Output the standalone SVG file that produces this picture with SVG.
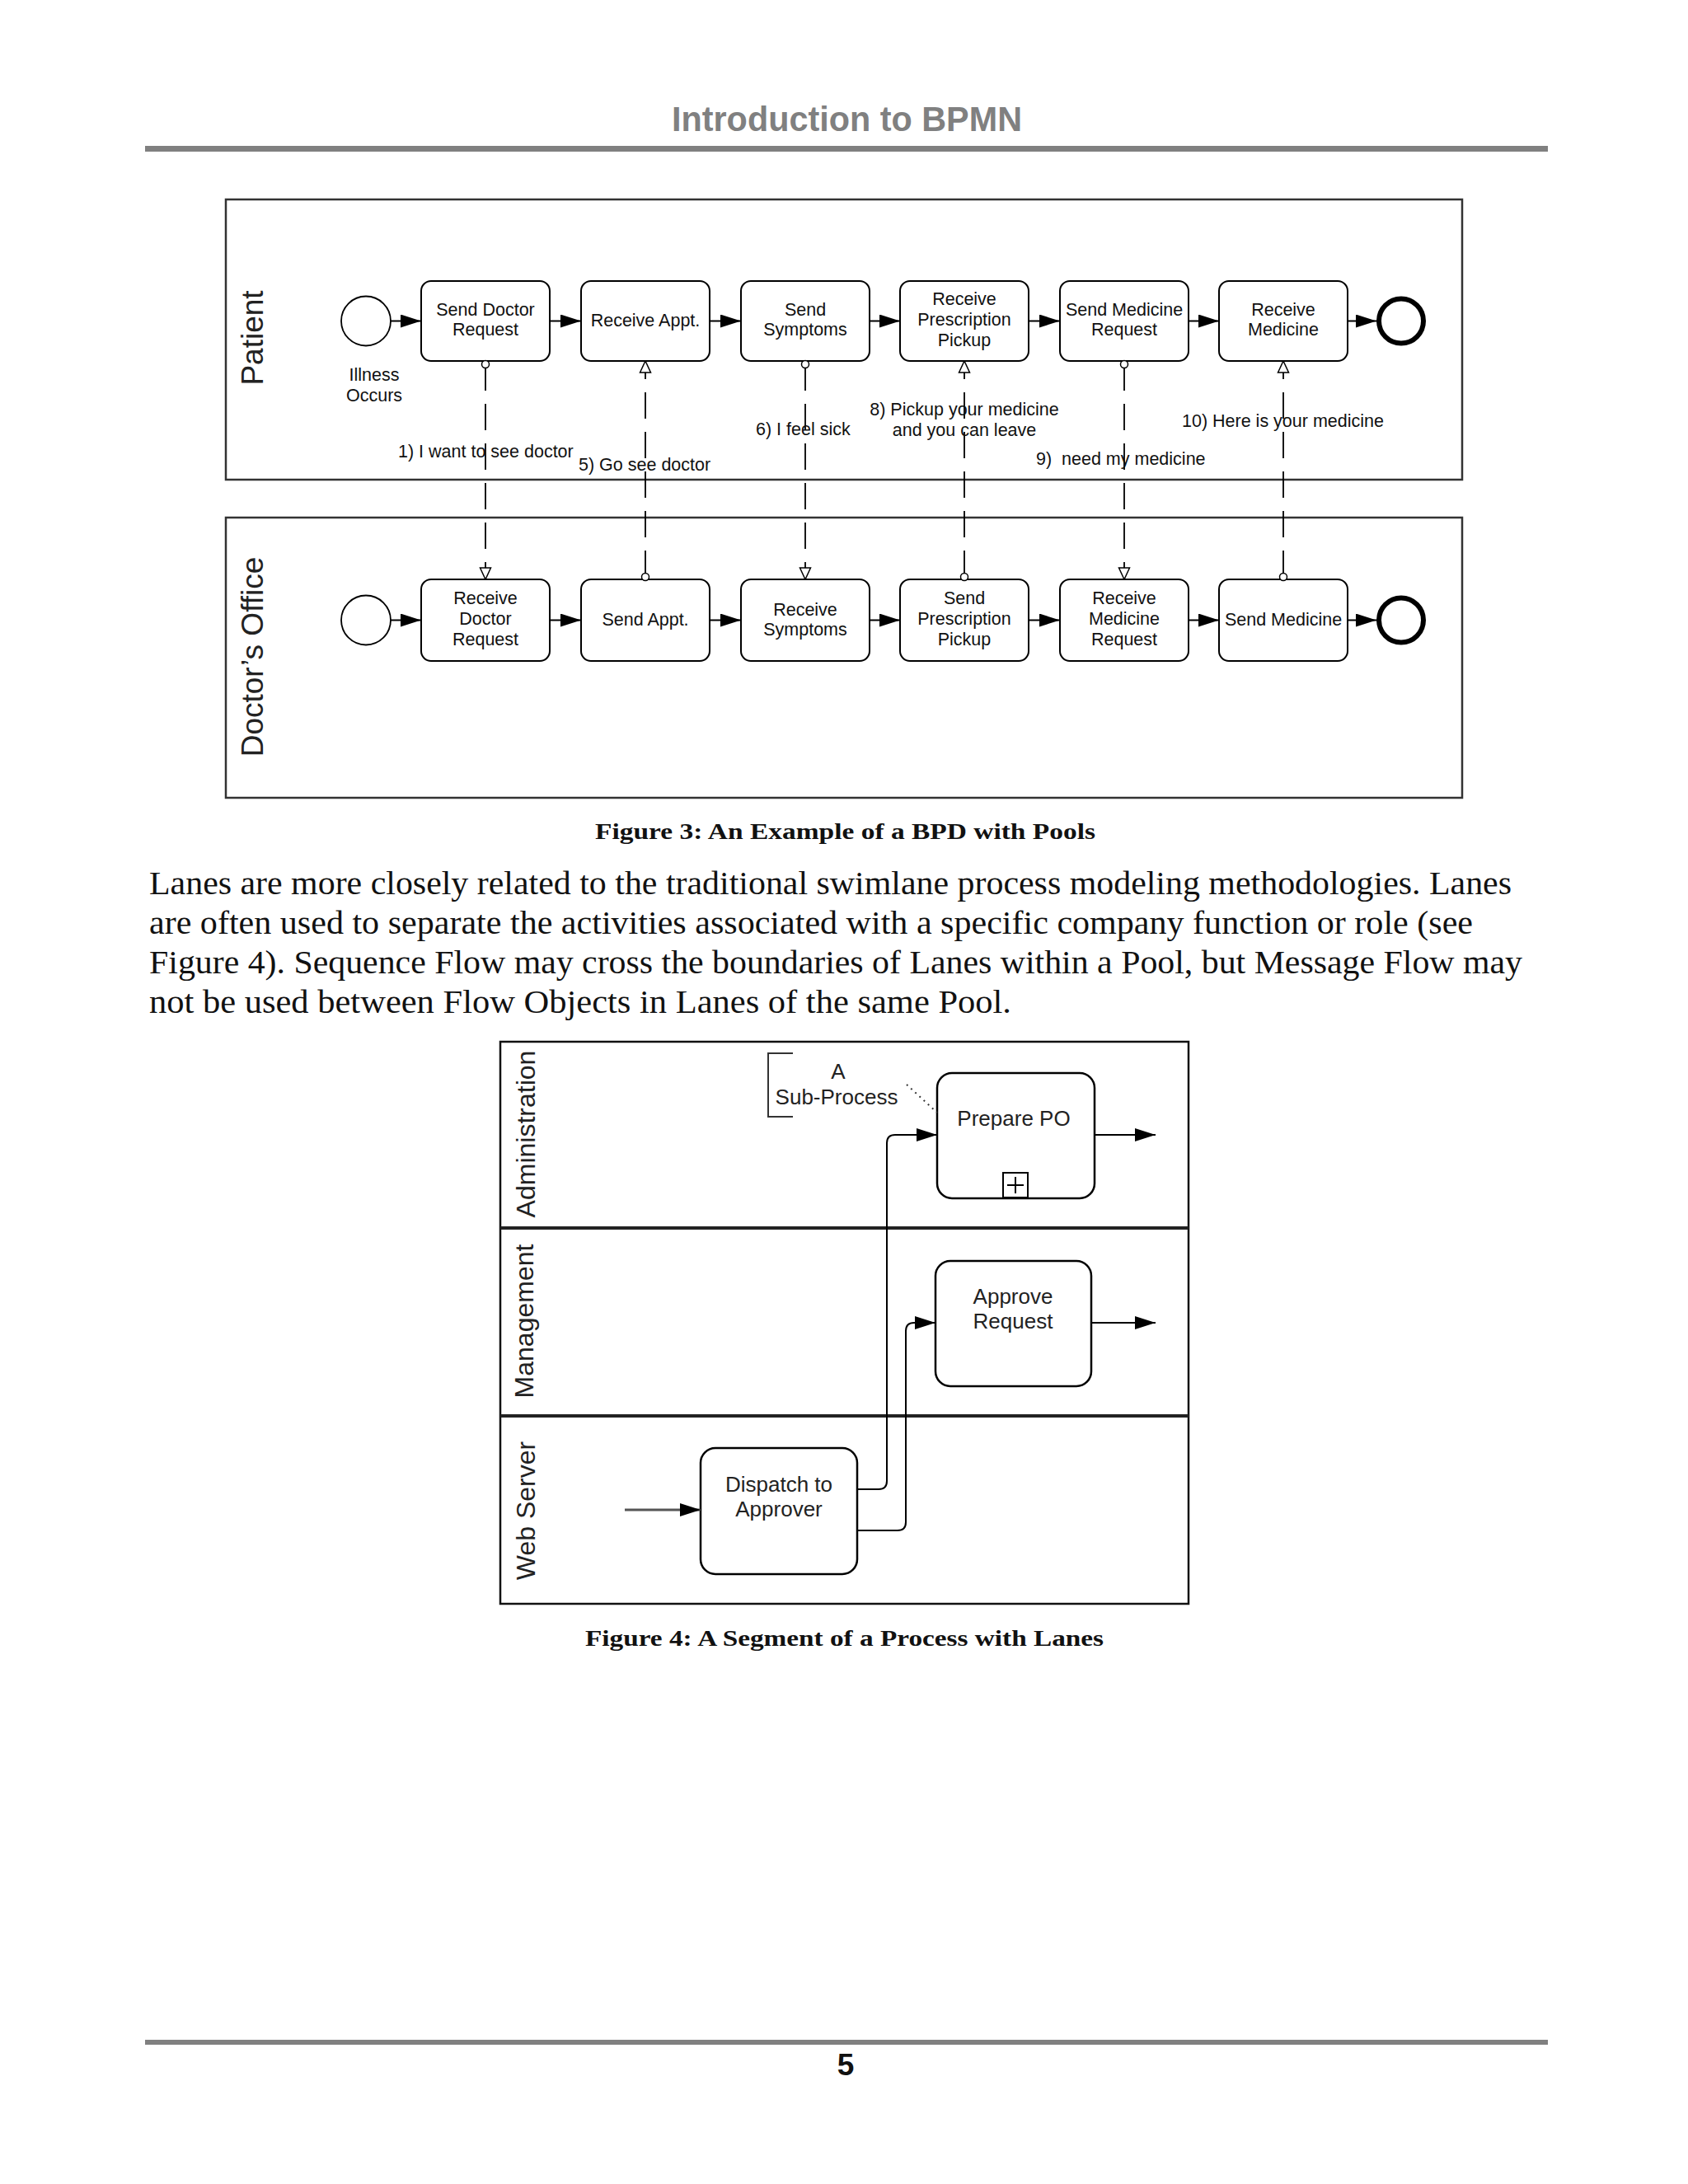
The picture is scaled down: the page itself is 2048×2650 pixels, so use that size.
<svg xmlns="http://www.w3.org/2000/svg" width="2048" height="2650" viewBox="0 0 2048 2650">
<style>
.t{font-family:"Liberation Sans",Arial,sans-serif;font-size:21.5px;fill:#111;text-anchor:middle}
.lbl{font-family:"Liberation Sans",Arial,sans-serif;font-size:21.5px;fill:#111;white-space:pre}
.pool{fill:none;stroke:#333;stroke-width:2.5}
.task{fill:#fff;stroke:#000;stroke-width:2}
.task4{fill:#fff;stroke:#000;stroke-width:2.5}
.seq{fill:none;stroke:#000;stroke-width:2;marker-end:url(#seq)}
.msg{fill:none;stroke:#000;stroke-width:1.8;stroke-dasharray:32 16;marker-start:url(#msgStart);marker-end:url(#msgEnd)}
.plab{font-family:"Liberation Sans",Arial,sans-serif;font-size:37px;fill:#222;text-anchor:middle}
.llab{font-family:"Liberation Sans",Arial,sans-serif;font-size:32px;fill:#222;text-anchor:middle}
.t4{font-family:"Liberation Sans",Arial,sans-serif;font-size:26px;fill:#222;text-anchor:middle}
.body{font-family:"Liberation Serif","Times New Roman",serif;font-size:40px;fill:#111}
.cap{font-family:"Liberation Serif","Times New Roman",serif;font-size:28px;font-weight:bold;fill:#111}
</style>
<defs>
<marker id="seq" viewBox="0 0 25 16" refX="25" refY="8" markerWidth="25" markerHeight="16" markerUnits="userSpaceOnUse" orient="auto"><path d="M0,0 L25,8 L0,16 z" fill="#000"/></marker>
<marker id="msgEnd" viewBox="0 0 16 16" refX="15" refY="8" markerWidth="16" markerHeight="16" markerUnits="userSpaceOnUse" orient="auto"><path d="M1,1.5 L15,8 L1,14.5 z" fill="#fff" stroke="#000" stroke-width="1.5"/></marker>
<marker id="msgStart" viewBox="0 0 12 12" refX="6" refY="6" markerWidth="12" markerHeight="12" markerUnits="userSpaceOnUse"><circle cx="6" cy="6" r="4.5" fill="#fff" stroke="#000" stroke-width="1.5"/></marker>
</defs>
<rect width="2048" height="2650" fill="#fff"/>

<!-- page header / footer -->
<g id="header">
<text x="815" y="159" textLength="425" lengthAdjust="spacingAndGlyphs" style="font-family:'Liberation Sans',Arial,sans-serif;font-size:42px;font-weight:bold;fill:#808080">Introduction to BPMN</text>
<rect x="176" y="177" width="1702" height="7" fill="#808080"/>
</g>
<g id="footer">
<rect x="176" y="2475" width="1702" height="6" fill="#808080"/>
<text x="1026" y="2518" text-anchor="middle" style="font-family:'Liberation Sans',Arial,sans-serif;font-size:37px;font-weight:bold;fill:#111">5</text>
</g>

<!-- Figure 3 -->
<g id="pool-patient">
<rect class="pool" x="274" y="242" width="1500" height="340"/>
<text class="plab" transform="translate(319,410) rotate(-90)">Patient</text>
</g>
<g id="pool-doctor">
<rect class="pool" x="274" y="628" width="1500" height="340"/>
<text class="plab" transform="translate(319,797) rotate(-90)">Doctor’s Office</text>
</g>

<g id="p-start"><circle cx="444" cy="389.5" r="30" fill="#fff" stroke="#000" stroke-width="1.8"/>
<text class="t" x="454" y="462">Illness</text><text class="t" x="454" y="487">Occurs</text></g>
<g id="p1"><rect class="task" x="511" y="341" width="156" height="97" rx="12"/><text class="t" x="589" y="383">Send Doctor</text><text class="t" x="589" y="407">Request</text></g>
<g id="p2"><rect class="task" x="705" y="341" width="156" height="97" rx="12"/><text class="t" x="783" y="396">Receive Appt.</text></g>
<g id="p3"><rect class="task" x="899" y="341" width="156" height="97" rx="12"/><text class="t" x="977" y="383">Send</text><text class="t" x="977" y="407">Symptoms</text></g>
<g id="p4"><rect class="task" x="1092" y="341" width="156" height="97" rx="12"/><text class="t" x="1170" y="370">Receive</text><text class="t" x="1170" y="395">Prescription</text><text class="t" x="1170" y="420">Pickup</text></g>
<g id="p5"><rect class="task" x="1286" y="341" width="156" height="97" rx="12"/><text class="t" x="1364" y="383">Send Medicine</text><text class="t" x="1364" y="407">Request</text></g>
<g id="p6"><rect class="task" x="1479" y="341" width="156" height="97" rx="12"/><text class="t" x="1557" y="383">Receive</text><text class="t" x="1557" y="407">Medicine</text></g>
<g id="p-end"><circle cx="1700" cy="389.5" r="27" fill="#fff" stroke="#000" stroke-width="6"/></g>

<g id="d-start"><circle cx="444" cy="752.5" r="30" fill="#fff" stroke="#000" stroke-width="1.8"/></g>
<g id="d1"><rect class="task" x="511" y="703" width="156" height="99" rx="12"/><text class="t" x="589" y="733">Receive</text><text class="t" x="589" y="758">Doctor</text><text class="t" x="589" y="783">Request</text></g>
<g id="d2"><rect class="task" x="705" y="703" width="156" height="99" rx="12"/><text class="t" x="783" y="759">Send Appt.</text></g>
<g id="d3"><rect class="task" x="899" y="703" width="156" height="99" rx="12"/><text class="t" x="977" y="747">Receive</text><text class="t" x="977" y="771">Symptoms</text></g>
<g id="d4"><rect class="task" x="1092" y="703" width="156" height="99" rx="12"/><text class="t" x="1170" y="733">Send</text><text class="t" x="1170" y="758">Prescription</text><text class="t" x="1170" y="783">Pickup</text></g>
<g id="d5"><rect class="task" x="1286" y="703" width="156" height="99" rx="12"/><text class="t" x="1364" y="733">Receive</text><text class="t" x="1364" y="758">Medicine</text><text class="t" x="1364" y="783">Request</text></g>
<g id="d6"><rect class="task" x="1479" y="703" width="156" height="99" rx="12"/><text class="t" x="1557" y="759">Send Medicine</text></g>
<g id="d-end"><circle cx="1700" cy="752.5" r="27" fill="#fff" stroke="#000" stroke-width="6"/></g>

<g id="connectors-fig3">
<path class="seq" d="M474,389.5 H511"/>
<path class="seq" d="M667,389.5 H705"/>
<path class="seq" d="M861,389.5 H899"/>
<path class="seq" d="M1055,389.5 H1092"/>
<path class="seq" d="M1248,389.5 H1286"/>
<path class="seq" d="M1442,389.5 H1479"/>
<path class="seq" d="M1635,389.5 H1670"/>
<path class="seq" d="M474,752.5 H511"/>
<path class="seq" d="M667,752.5 H705"/>
<path class="seq" d="M861,752.5 H899"/>
<path class="seq" d="M1055,752.5 H1092"/>
<path class="seq" d="M1248,752.5 H1286"/>
<path class="seq" d="M1442,752.5 H1479"/>
<path class="seq" d="M1635,752.5 H1670"/>
<path class="msg" d="M589,442 V703"/>
<path class="msg" d="M783,700 V438"/>
<path class="msg" d="M977,442 V703"/>
<path class="msg" d="M1170,700 V438"/>
<path class="msg" d="M1364,442 V703"/>
<path class="msg" d="M1557,700 V438"/>
<text class="lbl" x="483" y="555">1) I want to see doctor</text>
<text class="lbl" x="702" y="571">5) Go see doctor</text>
<text class="lbl" x="917" y="528">6) I feel sick</text>
<text class="t" x="1170" y="504">8) Pickup your medicine</text>
<text class="t" x="1170" y="529">and you can leave</text>
<text class="lbl" x="1257" y="564">9)  need my medicine</text>
<text class="lbl" x="1434" y="518">10) Here is your medicine</text>
</g>

<g id="caption3"><text class="cap" x="722" y="1018" textLength="607" lengthAdjust="spacingAndGlyphs">Figure 3: An Example of a BPD with Pools</text></g>

<g id="bodytext">
<text class="body" x="181" y="1085" textLength="1653" lengthAdjust="spacingAndGlyphs">Lanes are more closely related to the traditional swimlane process modeling methodologies. Lanes</text>
<text class="body" x="181" y="1133" textLength="1606" lengthAdjust="spacingAndGlyphs">are often used to separate the activities associated with a specific company function or role (see</text>
<text class="body" x="181" y="1181" textLength="1666" lengthAdjust="spacingAndGlyphs">Figure 4). Sequence Flow may cross the boundaries of Lanes within a Pool, but Message Flow may</text>
<text class="body" x="181" y="1229" textLength="1046" lengthAdjust="spacingAndGlyphs">not be used between Flow Objects in Lanes of the same Pool.</text>
</g>

<!-- Figure 4 -->
<g id="fig4-pool">
<rect x="607" y="1264" width="835" height="682" fill="none" stroke="#111" stroke-width="2.5"/>
<line x1="607" y1="1490" x2="1442" y2="1490" stroke="#222" stroke-width="4"/>
<line x1="607" y1="1718" x2="1442" y2="1718" stroke="#222" stroke-width="4"/>
</g>
<g id="lane-admin"><text class="llab" transform="translate(649,1376) rotate(-90)">Administration</text></g>
<g id="lane-mgmt"><text class="llab" transform="translate(647,1603) rotate(-90)">Management</text></g>
<g id="lane-web"><text class="llab" transform="translate(649,1833) rotate(-90)">Web Server</text></g>

<g id="annotation">
<path d="M962,1278 H932 V1355 H962" fill="none" stroke="#333" stroke-width="2"/>
<text class="t4" x="1017" y="1309">A</text>
<text class="t4" x="1015" y="1340">Sub-Process</text>
</g>
<g id="prepare-po">
<rect class="task4" x="1137" y="1302" width="191" height="152" rx="18"/>
<text class="t4" x="1230" y="1366">Prepare PO</text>
<rect x="1217" y="1423" width="30" height="30" fill="#fff" stroke="#000" stroke-width="2"/>
<path d="M1222,1438 H1242 M1232,1428 V1448" stroke="#000" stroke-width="2"/>
</g>
<g id="approve-request">
<rect class="task4" x="1135" y="1530" width="189" height="152" rx="18"/>
<text class="t4" x="1229" y="1582">Approve</text>
<text class="t4" x="1229" y="1612">Request</text>
</g>
<g id="dispatch">
<rect class="task4" x="850" y="1757" width="190" height="153" rx="18"/>
<text class="t4" x="945" y="1810">Dispatch to</text>
<text class="t4" x="945" y="1840">Approver</text>
</g>

<g id="connectors-fig4">
<path d="M1100,1316 L1137,1350" fill="none" stroke="#333" stroke-width="2" stroke-dasharray="2 5"/>
<path class="seq" d="M1040,1807 H1066 Q1076,1807 1076,1797 V1387 Q1076,1377 1086,1377 H1137"/>
<path class="seq" d="M1040,1857 H1089 Q1099,1857 1099,1847 V1615 Q1099,1605 1109,1605 H1135"/>
<path class="seq" d="M1328,1377 H1402"/>
<path class="seq" d="M1324,1605 H1402"/>
<path d="M758,1832 H850" fill="none" stroke="#555" stroke-width="3" marker-end="url(#seq)"/>
</g>

<g id="caption4"><text class="cap" x="710" y="1997" textLength="629" lengthAdjust="spacingAndGlyphs">Figure 4: A Segment of a Process with Lanes</text></g>
</svg>
